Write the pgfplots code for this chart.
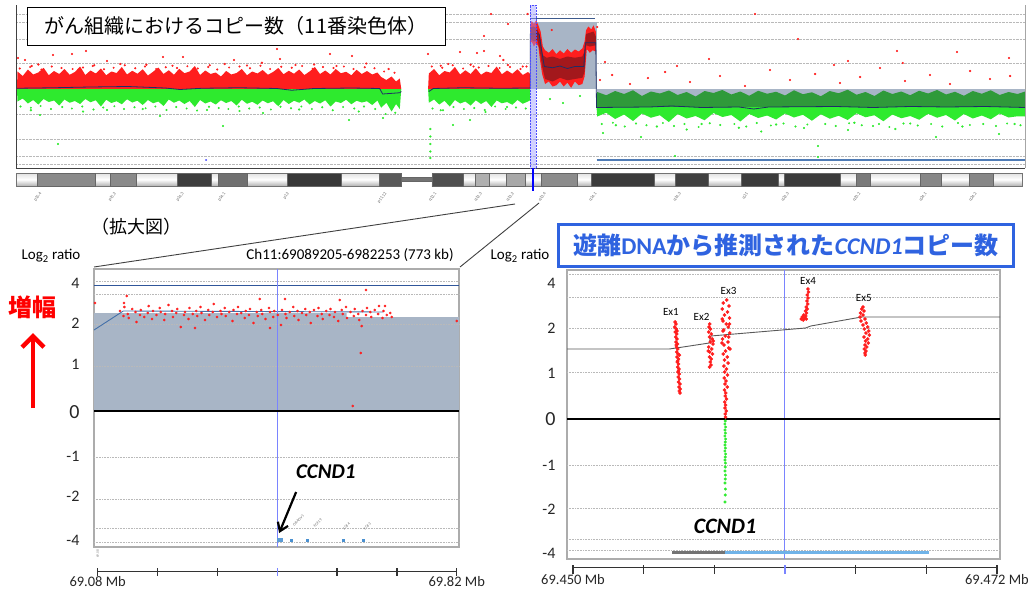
\documentclass[border=0pt]{standalone}
\usepackage{fontspec}
\setmainfont{Carlito}
\newfontfamily\jp{Noto Sans CJK JP}
\usepackage{pgfplots}
\pgfplotsset{compat=1.18}
\usetikzlibrary{arrows.meta}
\definecolor{segfill}{HTML}{A8B5C6}
\definecolor{cnred}{HTML}{FF1E1E}
\definecolor{cndred}{HTML}{A3181C}
\definecolor{cngreen}{HTML}{2EEA2E}
\definecolor{cndgreen}{HTML}{2F9A3A}
\definecolor{navy}{HTML}{1F2E66}
\definecolor{ttlblue}{HTML}{2F63E0}
\definecolor{selblue}{HTML}{7A84FF}
\definecolor{segline}{HTML}{4470A8}
\definecolor{genebl}{HTML}{6FB3E8}
\definecolor{ampline}{HTML}{3D5A8C}
\definecolor{delline}{HTML}{4F7BB5}
\definecolor{hline}{HTML}{30569A}
\definecolor{genebox}{HTML}{5B9BD5}
\definecolor{genetick}{HTML}{4A90D0}
\newcommand{\fs}[1]{\fontsize{#1}{#1}\selectfont}
\newcommand{\band}[3]{\addplot[draw=black!60,line width=0.5pt,fill=#3] coordinates {(#1,0)(#1,1)(#2,1)(#2,0)} -- cycle;}
\begin{document}
\begin{tikzpicture}
\useasboundingbox (0,0) rectangle (1028pt,-589pt);

% ================= TOP PANEL =================
\begin{axis}[at={(16pt,-168pt)},anchor=south west,scale only axis,width=1009pt,height=163pt,
 xmin=0,xmax=135.4,ymin=-3.16,ymax=3.36,
 axis x line=bottom,axis y line=left,axis line style={-,black!75,line width=0.9pt},
 xtick=\empty,ytick={-3,-2.68,-2,-1,1.04,2,2.68,3},yticklabels={},major tick length=0pt,
 ymajorgrids,grid style={densely dotted,gray!55,line width=0.6pt}]
\addplot[fill=segfill,draw=none] coordinates {(69.0,0)(69.0,2.68)(77.9,2.68)(77.9,0)} -- cycle;
\addplot[fill=segfill,draw=none] coordinates {(77.9,0)(77.9,-0.72)(135.4,-0.72)(135.4,0)} -- cycle;
\addplot[fill=cnred,draw=none] coordinates {(0.13,0)(0.2,0.70)(0.9,0.52)(1.6,0.78)(2.3,0.58)(3.0,0.66)(3.7,0.85)(4.4,0.55)(5.1,0.72)(5.8,0.60)(6.5,0.80)(7.2,0.57)(7.9,0.68)(8.6,0.90)(9.3,0.56)(10.0,0.74)(10.7,0.62)(11.4,0.82)(12.1,0.55)(12.8,0.70)(13.5,0.64)(14.2,0.88)(14.9,0.58)(15.6,0.73)(16.3,0.61)(17.0,0.79)(17.7,0.54)(18.4,0.69)(19.1,0.86)(19.8,0.60)(20.5,0.75)(21.2,0.57)(21.9,0.81)(22.6,0.63)(23.3,0.70)(24.0,0.92)(24.7,0.56)(25.4,0.74)(26.1,0.60)(26.8,0.66)(27.5,0.50)(28.2,0.72)(28.9,0.58)(29.6,0.64)(30.3,0.80)(31.0,0.55)(31.7,0.70)(32.4,0.62)(33.1,0.76)(33.8,0.57)(34.5,0.68)(35.2,0.84)(35.9,0.59)(36.6,0.73)(37.3,0.61)(38.0,0.78)(38.7,0.56)(39.4,0.70)(40.1,0.88)(40.8,0.60)(41.5,0.74)(42.2,0.58)(42.9,0.80)(43.6,0.63)(44.3,0.69)(45.0,0.55)(45.7,0.77)(46.4,0.60)(47.1,0.72)(47.8,0.58)(48.5,0.66)(49.0,0.48)(49.7,0.36)(50.4,0.50)(51.0,0.30)(51.5,0.42)(51.7,0)} -- cycle;
\addplot[fill=cngreen,draw=none] coordinates {(0.13,0)(0.2,-0.50)(0.9,-0.38)(1.6,-0.58)(2.3,-0.44)(3.0,-0.62)(3.7,-0.40)(4.4,-0.52)(5.1,-0.46)(5.8,-0.66)(6.5,-0.42)(7.2,-0.55)(7.9,-0.48)(8.6,-0.60)(9.3,-0.40)(10.0,-0.53)(10.7,-0.45)(11.4,-0.70)(12.1,-0.43)(12.8,-0.56)(13.5,-0.49)(14.2,-0.61)(14.9,-0.41)(15.6,-0.54)(16.3,-0.47)(17.0,-0.64)(17.7,-0.44)(18.4,-0.57)(19.1,-0.50)(19.8,-0.68)(20.5,-0.42)(21.2,-0.55)(21.9,-0.46)(22.6,-0.60)(23.3,-0.48)(24.0,-0.72)(24.7,-0.44)(25.4,-0.58)(26.1,-0.50)(26.8,-0.62)(27.5,-0.45)(28.2,-0.56)(28.9,-0.48)(29.6,-0.66)(30.3,-0.43)(31.0,-0.59)(31.7,-0.51)(32.4,-0.63)(33.1,-0.46)(33.8,-0.57)(34.5,-0.49)(35.2,-0.69)(35.9,-0.44)(36.6,-0.60)(37.3,-0.47)(38.0,-0.55)(38.7,-0.42)(39.4,-0.62)(40.1,-0.48)(40.8,-0.58)(41.5,-0.45)(42.2,-0.70)(42.9,-0.50)(43.6,-0.56)(44.3,-0.43)(45.0,-0.61)(45.7,-0.47)(46.4,-0.54)(47.1,-0.49)(47.8,-0.64)(48.5,-0.46)(49.0,-0.75)(49.7,-0.55)(50.4,-0.90)(51.0,-0.60)(51.5,-0.80)(51.7,0)} -- cycle;
\addplot[fill=cnred,draw=none] coordinates {(55.3,0)(55.4,0.62)(56.1,0.80)(56.8,0.55)(57.5,0.72)(58.2,0.66)(58.9,0.88)(59.6,0.58)(60.3,0.75)(61.0,0.60)(61.7,0.83)(62.4,0.57)(63.1,0.70)(63.8,0.64)(64.5,0.90)(65.2,0.59)(65.9,0.74)(66.6,0.61)(67.3,0.79)(68.0,0.56)(68.7,0.68)(69.0,0.60)(69.0,0)} -- cycle;
\addplot[fill=cngreen,draw=none] coordinates {(55.3,0)(55.4,-0.55)(56.1,-0.42)(56.8,-0.62)(57.5,-0.47)(58.2,-0.70)(58.9,-0.44)(59.6,-0.58)(60.3,-0.50)(61.0,-0.66)(61.7,-0.45)(62.4,-0.60)(63.1,-0.48)(63.8,-0.72)(64.5,-0.46)(65.2,-0.57)(65.9,-0.52)(66.6,-0.63)(67.3,-0.44)(68.0,-0.59)(68.7,-0.50)(69.0,-0.45)(69.0,0)} -- cycle;
\addplot[fill=cnred,draw=none] coordinates {(69.0,2.5)(69.2,2.72)(69.5,2.6)(69.8,2.75)(70.1,2.55)(70.4,2.3)(70.7,1.7)(71.0,1.55)(71.5,1.45)(72.0,1.6)(72.5,1.4)(73.0,1.55)(73.5,1.42)(74.0,1.6)(74.5,1.45)(75.0,1.58)(75.5,1.5)(76.0,1.62)(76.3,1.9)(76.5,2.35)(76.8,2.5)(77.2,2.38)(77.5,2.55)(77.8,2.3)(77.8,1.5)(77.4,1.55)(77.0,1.45)(76.6,1.6)(76.3,0.5)(76.0,0.2)(75.5,0.15)(75.0,0.3)(74.5,0.05)(74.0,0.25)(73.5,0.1)(73.0,0.3)(72.5,0.15)(72.0,0.1)(71.5,0.3)(71.0,0.2)(70.6,0.6)(70.3,1.2)(70.1,1.7)(69.8,1.85)(69.5,1.7)(69.2,1.9)(69.0,1.8)} -- cycle;
\addplot[fill=cndred,draw=none] coordinates {(69.05,2.45)(69.4,2.5)(69.8,2.45)(70.1,2.3)(70.4,2.0)(70.7,1.35)(71.2,1.25)(72,1.3)(73,1.2)(74,1.3)(75,1.25)(76,1.3)(76.3,1.5)(76.5,2.2)(77,2.25)(77.5,2.3)(77.8,2.1)(77.8,1.75)(77,1.7)(76.5,1.75)(76.3,0.7)(76,0.45)(75,0.4)(74,0.35)(73,0.45)(72,0.3)(71,0.4)(70.6,0.9)(70.3,1.5)(70.0,1.95)(69.5,1.9)(69.05,2.0)} -- cycle;
\addplot[fill=cndgreen,draw=none] coordinates {(77.9,-0.72)(78.0,-0.12)(79.2,-0.25)(80.4,-0.08)(81.6,-0.20)(82.8,-0.05)(84.0,-0.28)(85.2,-0.10)(86.4,-0.18)(87.6,-0.06)(88.8,-0.24)(90.0,-0.12)(91.2,-0.30)(92.4,-0.08)(93.6,-0.16)(94.8,-0.04)(96.0,-0.22)(97.2,-0.10)(98.4,-0.27)(99.6,-0.07)(100.8,-0.19)(102.0,-0.11)(103.2,-0.26)(104.4,-0.05)(105.6,-0.21)(106.8,-0.13)(108.0,-0.29)(109.2,-0.08)(110.4,-0.17)(111.6,-0.03)(112.8,-0.23)(114.0,-0.12)(115.2,-0.28)(116.4,-0.06)(117.6,-0.20)(118.8,-0.10)(120.0,-0.25)(121.2,-0.07)(122.4,-0.18)(123.6,-0.04)(124.8,-0.22)(126.0,-0.11)(127.2,-0.27)(128.4,-0.08)(129.6,-0.19)(130.8,-0.05)(132.0,-0.24)(133.2,-0.12)(134.4,-0.20)(135.4,-0.10)(135.4,-0.72)} -- cycle;
\addplot[fill=cngreen,draw=none] coordinates {(77.9,-0.72)(78.0,-1.10)(79.2,-0.95)(80.4,-1.20)(81.6,-1.02)(82.8,-1.28)(84.0,-0.98)(85.2,-1.15)(86.4,-1.05)(87.6,-1.32)(88.8,-1.00)(90.0,-1.18)(91.2,-1.08)(92.4,-1.25)(93.6,-0.96)(94.8,-1.12)(96.0,-1.04)(97.2,-1.30)(98.4,-1.00)(99.6,-1.16)(100.8,-1.06)(102.0,-1.22)(103.2,-0.98)(104.4,-1.14)(105.6,-1.03)(106.8,-1.27)(108.0,-1.01)(109.2,-1.19)(110.4,-1.07)(111.6,-1.24)(112.8,-0.97)(114.0,-1.13)(115.2,-1.05)(116.4,-1.29)(117.6,-1.02)(118.8,-1.17)(120.0,-1.08)(121.2,-1.23)(122.4,-0.99)(123.6,-1.15)(124.8,-1.04)(126.0,-1.26)(127.2,-1.00)(128.4,-1.18)(129.6,-1.06)(130.8,-1.21)(132.0,-0.98)(133.2,-1.14)(134.4,-1.09)(135.4,-1.10)(135.4,-0.72)} -- cycle;
% edge speckles
\addplot[only marks,mark=*,mark size=0.8pt,color=cnred] coordinates {(0.5,0.82)(1.9,0.88)(3.4,0.78)(4.8,0.9)(6.1,0.84)(7.6,0.8)(9.0,0.86)(10.3,0.92)(11.8,0.79)(13.1,0.85)(14.6,0.95)(16.0,0.83)(17.3,0.9)(18.8,0.8)(20.1,0.87)(21.6,0.84)(23.0,0.91)(24.4,0.82)(25.8,0.88)(27.0,0.78)(28.6,0.86)(30.0,0.9)(31.4,0.83)(32.8,0.93)(34.1,0.8)(35.6,0.89)(37.0,0.85)(38.4,0.92)(39.8,0.81)(41.2,0.88)(42.6,0.84)(44.0,0.9)(45.3,0.8)(46.8,0.87)(48.1,0.83)(49.4,0.7)(50.8,0.65)(55.8,0.9)(57.2,0.85)(58.6,0.95)(60.0,0.82)(61.4,0.9)(62.1,0.86)(63.4,0.92)(64.9,0.84)(66.3,0.88)(67.7,0.8)(68.5,0.9)};
\addplot[only marks,mark=*,mark size=0.8pt,color=cngreen] coordinates {(0.6,-0.7)(2.0,-0.75)(3.3,-0.68)(4.7,-0.8)(6.2,-0.72)(7.5,-0.78)(8.9,-0.7)(10.4,-0.82)(11.7,-0.74)(13.2,-0.69)(14.5,-0.8)(15.9,-0.73)(17.4,-0.77)(18.7,-0.7)(20.2,-0.84)(21.5,-0.72)(22.9,-0.78)(24.3,-0.86)(25.9,-0.71)(27.2,-0.76)(28.5,-0.8)(29.9,-0.7)(31.3,-0.78)(32.7,-0.74)(34.2,-0.82)(35.5,-0.71)(36.9,-0.77)(38.3,-0.7)(39.7,-0.8)(41.1,-0.73)(42.5,-0.85)(43.9,-0.72)(45.4,-0.78)(46.7,-0.7)(48.2,-0.8)(49.6,-1.0)(50.9,-0.95)(55.9,-0.78)(57.3,-0.85)(58.7,-0.72)(60.1,-0.8)(61.5,-0.76)(62.9,-0.84)(64.3,-0.7)(65.7,-0.8)(67.1,-0.74)(68.4,-0.78)(78.6,-1.4)(80.1,-1.35)(81.7,-1.5)(83.2,-1.38)(84.6,-1.45)(86.8,-1.36)(88.3,-1.48)(89.7,-1.4)(91.6,-1.52)(93.1,-1.37)(94.5,-1.44)(96.4,-1.4)(98.0,-1.5)(99.4,-1.36)(101.3,-1.46)(103.0,-1.38)(104.6,-1.5)(106.2,-1.42)(108.6,-1.4)(110.0,-1.48)(111.8,-1.37)(113.5,-1.45)(115.8,-1.4)(117.2,-1.52)(119.1,-1.38)(121.0,-1.46)(122.8,-1.4)(124.3,-1.5)(126.4,-1.36)(128.0,-1.44)(129.8,-1.4)(131.5,-1.48)(133.0,-1.38)(134.8,-1.45)};
\addplot[only marks,mark=*,mark size=0.9pt,color=cnred] coordinates {(0.27,1.24)(1.21,1.16)(4.97,1.36)(7.51,1.4)(9.39,1.52)(12.21,1.12)(19.73,1.28)(22.41,1.28)(29.25,1.16)(35.02,1.6)(35.43,1.2)(42.14,1.4)(45.09,1.32)(55.29,1.4)(59.58,1.48)(61.86,1.44)(62.8,1.52)(63.74,3.0)(64.95,1.32)(66.02,2.6)(62.8,2.12)(99.17,3.0)(104.94,2.0)(118.22,1.52)(126.27,1.48)(133.25,1.24)(93.0,1.2)(79.04,1.08)(88.7,0.92)(111.65,1.12)(109.77,0.96)(119.0,1.04)(78.37,0.36)(80.0,0.56)(82.39,0.2)(84.8,0.44)(87.1,0.68)(90.45,0.28)(94.47,0.52)(97.83,0.12)(101.18,0.76)(103.87,0.36)(107.23,0.6)(110.58,0.24)(113.27,0.48)(115.95,0.84)(119.3,0.32)(122.65,0.56)(125.34,0.2)(128.03,0.72)(130.71,0.4)(133.4,0.52)(3,0.98)(14,1.0)(26,0.95)(33,1.05)(40,0.98)(47,1.02)(58,1.0)(66,0.96)(2.1,0.92)(10.5,0.95)(17.5,0.97)(21,0.93)(28,1.0)(31,0.94)(37.5,0.96)(43,0.92)(50,0.8)(57,0.93)(61,0.97)(68,0.9)(68.65,3.0)(71.9,2.36)(78.0,2.48)(65.4,1.16)};
\addplot[only marks,mark=*,mark size=0.9pt,color=cngreen] coordinates {(5.64,-2.2)(27.78,-1.48)(44.69,-1.24)(49.25,-1.16)(58.64,-1.44)(60.92,-1.24)(19.32,-1.08)(12.21,-0.84)(3.22,-1.04)(25.63,-0.84)(33.15,-0.96)(65.89,-0.72)(107.62,-2.28)(107.62,-2.72)(88.43,-2.68)(78.77,-1.76)(83.87,-1.92)(123.46,-1.92)(131.91,-1.8)(105.74,-1.56)(111.65,-1.64)(71.66,-0.4)(73.4,-0.56)(75.68,-0.28)(55.6,-1.6)(55.6,-1.9)(55.6,-2.2)(55.6,-2.5)(55.6,-2.76)(2,-0.85)(9,-0.9)(17,-0.8)(30,-0.88)(38,-0.82)(46,-0.9)(57,-0.85)(63,-0.92)(80.5,-1.45)(86,-1.5)(92,-1.4)(97,-1.55)(102,-1.42)(115,-1.48)(120,-1.38)(127,-1.5)(134,-1.4)(90,-1.62)(100,-1.7)(112.5,-1.35)(118,-1.6)};
\addplot[only marks,mark=*,mark size=0.7pt,color=blue!70] coordinates {(25.5,-2.84)};
\addplot[navy,line width=0.8pt] coordinates {(0.13,0.03)(5,0.05)(10,0.08)(15,0.10)(20,0.04)(22,-0.02)(25,0.03)(30,0.05)(35,0.02)(37,-0.05)(40,0.02)(45,0.04)(48.8,0.02)(49.2,-0.2)(51.5,-0.15)(51.7,-0.1)};
\addplot[navy,line width=0.8pt] coordinates {(55.4,-0.1)(56,0.02)(60,0.05)(65,0.03)(69.0,0.04)(69.0,2.2)(70.2,2.2)(70.5,1.6)(70.9,0.9)(72,0.85)(73,0.92)(74,0.82)(75,0.9)(76.2,0.9)(76.4,1.85)(77.8,1.85)(77.9,-0.74)(85,-0.72)(88,-0.68)(92,-0.74)(97,-0.72)(99,-0.8)(101,-0.72)(110,-0.70)(115,-0.74)(120,-0.70)(125,-0.72)(130,-0.70)(135.4,-0.74)};
\addplot[color=ampline,line width=1.6pt] coordinates {(69.0,2.82)(77.7,2.82)};
\addplot[color=delline,line width=1.6pt] coordinates {(77.9,-2.84)(135.4,-2.84)};
\addplot[fill=blue!40,fill opacity=0.45,draw=blue!70,densely dotted,line width=0.5pt] coordinates {(68.97,-3.16)(68.97,3.36)(69.78,3.36)(69.78,-3.16)} -- cycle;
\end{axis}

% ================= IDEOGRAM =================
\begin{axis}[at={(16pt,-186pt)},anchor=south west,scale only axis,width=1009pt,height=13pt,
 xmin=0,xmax=135.4,ymin=0,ymax=1,axis lines=none,clip=false]
\addplot[draw=black!55,line width=0.6pt,top color=black!12,bottom color=black!30,middle color=white] coordinates {(0,0)(0,1)(51.7,1)(51.7,0)} -- cycle;
\addplot[draw=black!55,line width=0.6pt,top color=black!12,bottom color=black!30,middle color=white] coordinates {(55.8,0)(55.8,1)(135.0,1)(135.0,0)} -- cycle;
\addplot[draw=black!60,line width=0.5pt,fill=black!55] coordinates {(51.7,0.35)(51.7,0.65)(55.8,0.65)(55.8,0.35)} -- cycle;
\band{2.8}{10.7}{black!46}
\band{12.6}{16.2}{black!46}
\band{21.7}{26.2}{black!76}
\band{27.2}{31.0}{black!56}
\band{36.4}{43.6}{black!78}
\band{48.8}{51.7}{black!65}
\band{55.8}{60.0}{black!69}
\band{61.6}{63.5}{black!31}
\band{65.8}{68.4}{black!34}
\band{70.5}{75.3}{black!45}
\band{77.2}{85.6}{black!77}
\band{88.4}{92.9}{black!75}
\band{97.3}{102.3}{black!77}
\band{103.1}{110.6}{black!77}
\band{112.7}{114.7}{black!52}
\band{121.3}{124.1}{black!47}
\band{127.9}{131.1}{black!47}
\addplot[color=blue,line width=2pt] coordinates {(69.4,-0.35)(69.4,1.4)};
\node[rotate=55,anchor=east,font=\fs{4.5},text=black!60] at (axis cs:3.6,-0.3) {p15.4};
\node[rotate=55,anchor=east,font=\fs{4.5},text=black!60] at (axis cs:13.6,-0.3) {p15.2};
\node[rotate=55,anchor=east,font=\fs{4.5},text=black!60] at (axis cs:22.7,-0.3) {p14.3};
\node[rotate=55,anchor=east,font=\fs{4.5},text=black!60] at (axis cs:28.3,-0.3) {p14.1};
\node[rotate=55,anchor=east,font=\fs{4.5},text=black!60] at (axis cs:36.8,-0.3) {p12};
\node[rotate=55,anchor=east,font=\fs{4.5},text=black!60] at (axis cs:49.9,-0.3) {p11.12};
\node[rotate=55,anchor=east,font=\fs{4.5},text=black!60] at (axis cs:56.6,-0.3) {q12.1};
\node[rotate=55,anchor=east,font=\fs{4.5},text=black!60] at (axis cs:62.7,-0.3) {q12.3};
\node[rotate=55,anchor=east,font=\fs{4.5},text=black!60] at (axis cs:67.0,-0.3) {q13.2};
\node[rotate=55,anchor=east,font=\fs{4.5},text=black!60] at (axis cs:71.3,-0.3) {q13.4};
\node[rotate=55,anchor=east,font=\fs{4.5},text=black!60] at (axis cs:78.1,-0.3) {q14.1};
\node[rotate=55,anchor=east,font=\fs{4.5},text=black!60] at (axis cs:89.4,-0.3) {q14.3};
\node[rotate=55,anchor=east,font=\fs{4.5},text=black!60] at (axis cs:98.4,-0.3) {q21};
\node[rotate=55,anchor=east,font=\fs{4.5},text=black!60] at (axis cs:103.9,-0.3) {q22.3};
\node[rotate=55,anchor=east,font=\fs{4.5},text=black!60] at (axis cs:113.5,-0.3) {q23.2};
\node[rotate=55,anchor=east,font=\fs{4.5},text=black!60] at (axis cs:122.4,-0.3) {q24.1};
\node[rotate=55,anchor=east,font=\fs{4.5},text=black!60] at (axis cs:129.1,-0.3) {q24.2};
\end{axis}

% ================= BOTTOM LEFT =================
\begin{axis}[at={(94pt,-547pt)},anchor=south west,scale only axis,width=365pt,height=278pt,
 xmin=-7.6,xmax=744.7,ymin=-136,ymax=142,clip=false,
 axis line style={gray!65,line width=1.3pt},xtick=\empty,
 ytick={-129,-85,-45,-1,47,88,128},yticklabels={-4,-2,-1,{\fs{20}0},1,2,4},
 major tick length=0pt,yticklabel style={font=\fs{16},text=black!85,xshift=-11pt}]
\addplot[fill=segfill,draw=none] coordinates {(-7.6,0)(-7.6,98)(513.3,98)(513.3,94)(744.7,94)(744.7,0)} -- cycle;
\pgfplotsinvokeforeach{130,117,87,45,-46,-88,-117,-131}{\addplot[densely dotted,gray!55,line width=0.6pt] coordinates {(-7.6,#1)(744.7,#1)};}
\addplot[color=hline,line width=0.9pt] coordinates {(-7.6,126)(744.7,126)};
\addplot[color=segline,line width=0.9pt] coordinates {(-7.6,81)(52.8,100)(588,99)};
\addplot[selblue,line width=0.8pt] coordinates {(369.6,-136)(369.6,142)};
\addplot[black,line width=2.6pt] coordinates {(-7.6,0)(744.7,0)};
\addplot[only marks,mark=*,mark size=1.1pt,color=cnred] coordinates {(46,100)(53,95)(55,104)(62,97)(64,93)(71,102)(78,99)(80,89)(87,96)(89,101)(96,94)(103,98)(105,105)(112,92)(114,100)(121,96)(128,103)(130,99)(137,91)(139,97)(146,106)(153,100)(155,94)(162,98)(164,102)(171,84)(178,96)(180,99)(187,92)(189,103)(196,97)(203,100)(205,95)(212,104)(214,98)(221,91)(228,101)(230,96)(237,99)(239,107)(246,94)(253,100)(255,97)(262,103)(264,95)(271,99)(278,90)(280,101)(287,97)(289,104)(296,98)(303,93)(305,100)(312,96)(314,102)(321,88)(328,99)(330,95)(337,101)(339,97)(346,92)(353,103)(355,99)(362,94)(364,100)(371,96)(378,86)(380,101)(387,97)(389,93)(396,99)(403,104)(405,95)(412,100)(414,91)(421,98)(428,102)(430,96)(437,99)(439,88)(446,101)(453,95)(455,103)(462,97)(464,92)(471,100)(478,96)(480,102)(487,94)(489,99)(496,90)(503,101)(505,97)(512,104)(514,93)(521,99)(528,95)(530,102)(537,97)(539,91)(546,100)(553,96)(555,103)(562,99)(564,94)(571,101)(578,97)(580,105)(587,93)(589,100)(596,96)(603,98)(-5.6,108)(59.8,115)(54,108)(553,121)(542,58)(525.6,5)(200.6,83)(355,83)(544,85)(606,94)(592,105)(499,111)(386,112)(334,112)(740,90)};
\addplot[fill=genebox,draw=none] coordinates {(369.6,-127)(382,-127)(382,-130.5)(369.6,-130.5)} -- cycle;
\addplot[only marks,mark=square*,mark size=1pt,color=genetick] coordinates {(398,-129)(431,-129)(506,-129)(547,-129)};
\node[rotate=45,anchor=east,inner sep=0.5pt,font=\fs{4},text=black!55] at (axis cs:425,-104) {ORAOV1};
\node[rotate=45,anchor=east,inner sep=0.5pt,font=\fs{4},text=black!55] at (axis cs:462,-108) {FGF19};
\node[rotate=45,anchor=east,inner sep=0.5pt,font=\fs{4},text=black!55] at (axis cs:520,-112) {FGF4};
\node[rotate=45,anchor=east,inner sep=0.5pt,font=\fs{4},text=black!55] at (axis cs:563,-112) {FGF3};
\node[font=\fs{21}\bfseries\itshape] at (axis cs:470,-61) {CCND1};
\draw[-{Straight Barb[length=8pt,width=11pt]},line width=2.2pt] (axis cs:409,-81) -- (axis cs:374,-122);
\addplot[black!80,line width=1pt] coordinates {(0,-160.7)(740,-160.7)};
\addplot[black!80,line width=1.2pt,unbounded coords=jump] coordinates {(0,-157)(0,-165)(0,nan)(123.3,-157)(123.3,-165)(123.3,nan)(246.7,-157)(246.7,-165)(246.7,nan)(493.3,-157)(493.3,-165)(493.3,nan)(616.7,-157)(616.7,-165)(616.7,nan)(740,-157)(740,-165)};
\addplot[selblue,line width=1.2pt] coordinates {(370,-157)(370,-165)};
\node[font=\fs{14.5},text=black!85] at (axis cs:0,-171) {69.08 Mb};
\node[font=\fs{14.5},text=black!85] at (axis cs:740,-171) {69.82 Mb};
\node[rotate=90,font=\fs{3.5},text=black!50] at (axis cs:0,-143) {69.08};
\end{axis}

% ================= BOTTOM RIGHT =================
\begin{axis}[at={(567pt,-559pt)},anchor=south west,scale only axis,width=433pt,height=289pt,
 xmin=-0.311,xmax=22.16,ymin=-140,ymax=149,clip=false,
 axis line style={gray!65,line width=1.3pt},xtick=\empty,
 ytick={-134,-90,-46,0,46,91,136},yticklabels={-4,-2,-1,{\fs{20}0},1,2,4},
 major tick length=0pt,yticklabel style={font=\fs{16},text=black!85,xshift=-8pt}]
\pgfplotsinvokeforeach{145,122,91,47,-46,-89,-120,-131}{\addplot[densely dotted,gray!55,line width=0.6pt] coordinates {(-0.311,#1)(22.16,#1)};}
\addplot[selblue,line width=0.8pt] coordinates {(10.95,-140)(10.95,149)};
\addplot[color=black!65,line width=0.9pt] coordinates {(-0.311,70)(5.0,70)(5.71,72)(7.07,76)(7.15,83)(12.07,91)(12.34,93)(14.97,102)(22.16,102)};
\addplot[black,line width=2.8pt] coordinates {(-0.311,0)(22.16,0)};
\addplot[only marks,mark=*,mark size=1.6pt,color=cnred] coordinates {(5.30,97)(5.34,95)(5.28,92)(5.36,90)(5.31,87)(5.38,85)(5.33,82)(5.40,80)(5.35,77)(5.42,75)(5.37,72)(5.44,70)(5.38,67)(5.45,65)(5.40,62)(5.47,60)(5.41,57)(5.48,55)(5.43,52)(5.50,50)(5.45,47)(5.51,45)(5.46,42)(5.53,40)(5.48,37)(5.55,35)(5.50,32)(5.56,30)(5.52,28)(5.55,26)(5.44,58)(5.52,64)(5.36,74)(5.47,48)(5.40,88)};
\addplot[only marks,mark=*,mark size=1.6pt,color=cnred] coordinates {(7.10,95)(7.06,92)(7.14,90)(7.04,87)(7.18,85)(7.08,82)(7.22,80)(7.12,77)(7.26,75)(7.05,72)(7.20,70)(7.10,67)(7.24,65)(7.08,62)(7.18,60)(7.12,57)(7.16,54)(7.09,52)(7.28,78)(7.02,68)};
\addplot[only marks,mark=*,mark size=1.6pt,color=cnred] coordinates {(7.98,119)(7.80,116)(8.10,113)(7.75,110)(8.02,107)(7.86,104)(8.12,101)(7.78,98)(7.95,95)(8.06,92)(7.82,89)(8.14,86)(7.90,83)(7.76,80)(8.04,77)(7.84,74)(8.08,71)(7.92,68)(7.80,65)(8.00,62)(7.86,59)(8.05,56)(7.83,53)(7.96,50)(7.88,47)(8.02,44)(7.85,41)(7.94,38)(7.89,35)(8.00,32)(7.86,29)(7.93,26)(7.90,23)(7.97,20)(7.87,17)(7.92,14)(7.89,11)(7.95,8)(7.90,5)(7.92,2)(7.74,100)(8.12,95)(7.78,88)(8.08,82)(7.73,76)(8.15,70)};
\addplot[only marks,mark=*,mark size=1.3pt,color=cngreen] coordinates {(7.90,-2)(7.88,-5)(7.92,-8)(7.89,-11)(7.91,-14)(7.88,-17)(7.92,-20)(7.90,-23)(7.89,-26)(7.91,-29)(7.88,-32)(7.92,-35)(7.90,-38)(7.89,-41)(7.91,-44)(7.90,-48)(7.89,-52)(7.91,-56)(7.90,-60)(7.89,-64)(7.91,-70)(7.90,-76)(7.89,-83)};
\addplot[only marks,mark=*,mark size=1.6pt,color=cnred] coordinates {(12.19,130)(12.22,127)(12.16,124)(12.20,121)(12.14,118)(12.18,115)(12.10,112)(12.15,110)(12.06,108)(12.12,106)(11.98,104)(12.08,103)(11.90,102)(12.02,101)(11.85,100)(11.95,99)(12.10,100)};
\addplot[only marks,mark=*,mark size=1.6pt,color=cnred] coordinates {(15.05,112)(14.98,110)(15.10,108)(14.92,106)(15.05,104)(14.90,102)(15.15,100)(14.95,98)(15.22,96)(15.05,94)(15.30,92)(15.12,90)(15.35,88)(15.20,86)(15.38,84)(15.10,82)(15.30,80)(15.18,78)(15.32,76)(15.15,74)(15.25,72)(15.12,70)(15.20,68)(15.15,66)(15.17,64)};
\node[font=\fs{11}] at (axis cs:5.08,107) {Ex1};
\node[font=\fs{11}] at (axis cs:6.67,102) {Ex2};
\node[font=\fs{11}] at (axis cs:8.07,128) {Ex3};
\node[font=\fs{11}] at (axis cs:12.2,138) {Ex4};
\node[font=\fs{11}] at (axis cs:15.09,121) {Ex5};
\node[font=\fs{22}\bfseries\itshape] at (axis cs:7.89,-107) {CCND1};
\addplot[color=black!55,line width=3pt] coordinates {(5.14,-133)(7.89,-133)};
\addplot[color=genebl,line width=3pt] coordinates {(7.89,-133)(18.5,-133)};
\addplot[black!80,line width=1pt] coordinates {(0,-148)(22,-148)};
\addplot[black!80,line width=1.2pt,unbounded coords=jump] coordinates {(0,-146)(0,-155)(0,nan)(3.667,-146)(3.667,-155)(3.667,nan)(7.333,-146)(7.333,-155)(7.333,nan)(14.667,-146)(14.667,-155)(14.667,nan)(18.333,-146)(18.333,-155)(18.333,nan)(22,-146)(22,-155)};
\addplot[selblue,line width=1.2pt] coordinates {(11,-146)(11,-155)};
\node[font=\fs{14.5},text=black!85] at (axis cs:0,-161) {69.450 Mb};
\node[font=\fs{14.5},text=black!85] at (axis cs:22,-161) {69.472 Mb};
\end{axis}

% ================= ANNOTATIONS =================
\draw[gray!70,line width=0.8pt] (1025pt,-5pt) -- (1025pt,-168pt);
\node[draw=black,line width=0.9pt,fill=white,minimum width=418pt,minimum height=38pt,inner sep=0pt,font=\jp\fs{20}] at (236pt,-26pt) {がん組織におけるコピー数（11番染色体）};
\node[font=\jp\fs{18}] at (136pt,-227pt) {（拡大図）};
\node[font=\jp\bfseries\fs{24},text=red] at (33pt,-307pt) {増幅};
\draw[red,line width=4.5pt,-{Straight Barb[length=11pt,width=22pt]}] (33pt,-408pt) -- (33pt,-333pt);
\node[font=\fs{15}] at (51pt,-256pt) {Log\textsubscript{2} ratio};
\node[font=\fs{15}] at (350pt,-255pt) {Ch11:69089205-6982253 (773 kb)};
\node[font=\fs{15}] at (520pt,-256pt) {Log\textsubscript{2} ratio};
\node[draw=ttlblue,line width=3pt,fill=white,minimum width=455pt,minimum height=42pt,inner sep=0pt,text=ttlblue,font=\fs{24}] at (786pt,-245.5pt) {{\jp\bfseries 遊離}{\bfseries DNA}{\jp\bfseries から推測された}{\bfseries\itshape CCND1}{\jp\bfseries コピー数}};
\draw[black!75,line width=0.9pt] (94pt,-267pt) -- (515pt,-204pt);
\draw[black!75,line width=0.9pt] (460pt,-267pt) -- (539pt,-203pt);
\end{tikzpicture}
\end{document}
